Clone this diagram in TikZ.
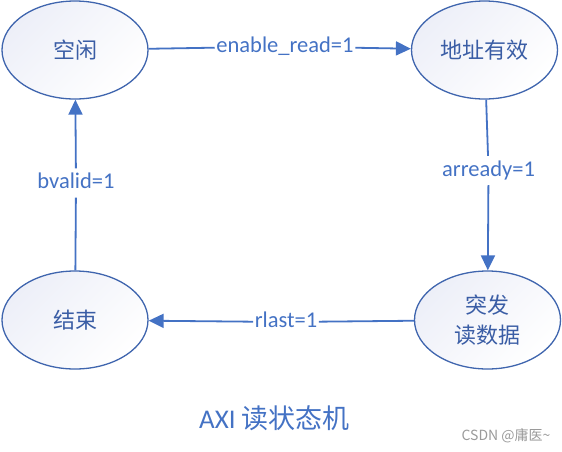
\documentclass[tikz,border=0pt]{standalone}
\usepackage{fontspec}
\setmainfont{Carlito}
\newfontfamily\cjk{Noto Sans CJK SC}
\usetikzlibrary{arrows.meta,shapes.geometric}
\definecolor{lineblue}{HTML}{4472C4}
\definecolor{borderblue}{HTML}{3F65AE}
\definecolor{textblue}{HTML}{3A5DA5}
\definecolor{gradc}{HTML}{EDEFF8}
\definecolor{wmgray}{HTML}{9A9A9A}
\begin{document}
\begin{tikzpicture}[x=1pt,y=-1pt,
  state/.style={ellipse, draw=borderblue, line width=1.3pt, minimum width=146pt, minimum height=98pt, inner sep=0pt,
    top color=gradc, bottom color=white, shading angle=45, text=textblue,
    font=\cjk\fontsize{22}{30}\selectfont, align=center},
  lbl/.style={text=lineblue, font=\fontsize{22.5}{26}\selectfont, inner xsep=1.5pt, inner ysep=4pt,
    text height=16pt, text depth=5pt, anchor=base},
  conn/.style={draw=lineblue, line width=1.8pt},
  arr/.style={conn, -{Triangle[length=15pt,width=14pt]}}
]
\useasboundingbox (0,0) rectangle (562,451);
\node[state] (idle)  at (75,50)    {空闲};
\node[state] (addr)  at (484.5,50) {地址有效};
\node[state] (burst) at (487.5,320) {突发\\读数据};
\node[state] (done)  at (75,320)   {结束};

\node[lbl] (l1) at (285,52)    {enable\_read=1};
\node[lbl] (l2) at (488.5,176) {arready=1};
\node[lbl] (l3) at (286,327.5) {rlast=1};
\node[lbl] (l4) at (76,188.5)  {bvalid=1};

\draw[conn] (idle) -- (l1);
\draw[arr]  (l1) -- (addr);
\draw[conn] (addr) -- (l2);
\draw[arr]  (l2) -- (burst);
\draw[conn] (burst) -- (l3);
\draw[arr]  (l3) -- (done);
\draw[conn] (done) -- (l4);
\draw[arr]  (l4) -- (idle);

\node[text=lineblue, font=\fontsize{27}{30}\selectfont] (title) at (274.5,418) {AXI {\cjk 读状态机}};
\node[text=wmgray, font=\cjk\fontsize{14}{16}\selectfont] (wm) at (506,436) {CSDN @庸医\textasciitilde};
\end{tikzpicture}
\end{document}
